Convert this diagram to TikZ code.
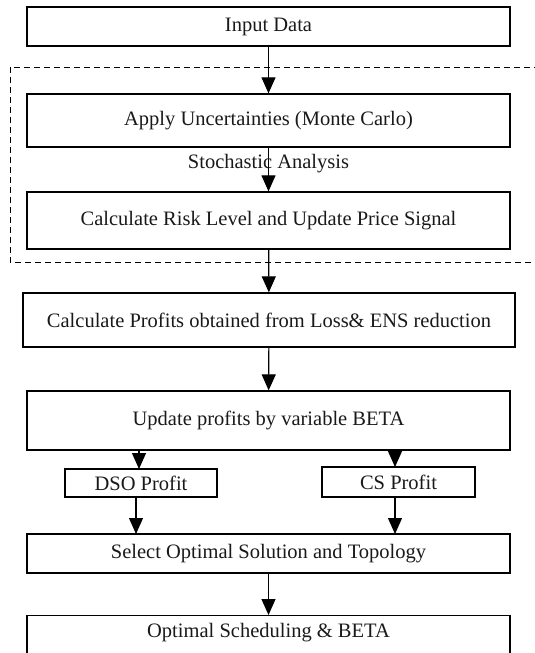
\documentclass[tikz,border=0pt]{standalone}
\usepackage{fontspec}
\setmainfont{Liberation Serif}
\usetikzlibrary{arrows.meta}
\begin{document}
\begin{tikzpicture}[x=1pt,y=-1pt,
  box/.style={draw, line width=1.3pt, inner sep=0pt, font=\fontsize{20.5}{22}\selectfont, text=black!90},
  arr/.style={draw, line width=1.2pt, -{Triangle[width=14pt,length=16pt]}},
  lbl/.style={font=\fontsize{20.5}{22}\selectfont, text=black!90, inner sep=0pt}]
\useasboundingbox (0,0) rectangle (535,653);
\clip (0,0) rectangle (535,653);
\draw[line width=1pt, dash pattern=on 6pt off 4pt] (10,67) rectangle (560,262);
\node[box, minimum width=483pt, minimum height=39pt] (input) at (268.5,26.5) {Input Data};
\node[box, minimum width=483pt, minimum height=53pt] (apply) at (268.5,120.5) {Apply Uncertainties (Monte Carlo)};
\node[box, minimum width=483pt, minimum height=57pt] (risk) at (268.5,220.5) {Calculate Risk Level and Update Price Signal};
\node[box, minimum width=492pt, minimum height=54pt] (profits) at (269,320) {Calculate Profits obtained from Loss\& ENS reduction};
\node[box, minimum width=483pt, minimum height=59pt] (update) at (268.5,420.5) {Update profits by variable BETA};
\node[box, minimum width=152pt, minimum height=28pt] (dso) at (141,483) {DSO Profit};
\node[box, minimum width=153pt, minimum height=30pt] (cs) at (398.5,482) {CS Profit};
\node[box, minimum width=483pt, minimum height=39pt] (select) at (268.5,553.5) {Select Optimal Solution and Topology};
\node[box, minimum width=483pt, minimum height=40pt, anchor=north] (optimal) at (268.5,615) {};
\node[lbl] (optlbl) at (268.5,633) {Optimal Scheduling \& BETA};
\draw[arr] (input) -- (apply);
\draw[arr] (apply) -- (risk);
\node[lbl] (stoch) at (268.5,164) {Stochastic Analysis};
\draw[arr] (risk) -- (profits);
\draw[arr] (profits) -- (update);
\draw[arr] (update.south -| 139,0) -- (139,469);
\draw[arr] (update.south -| 395,0) -- (395,467);
\draw[arr] (dso.south -| 136,0) -- (136,534);
\draw[arr] (cs.south -| 395,0) -- (395,534);
\draw[arr] (select) -- (optimal);
\end{tikzpicture}
\end{document}
